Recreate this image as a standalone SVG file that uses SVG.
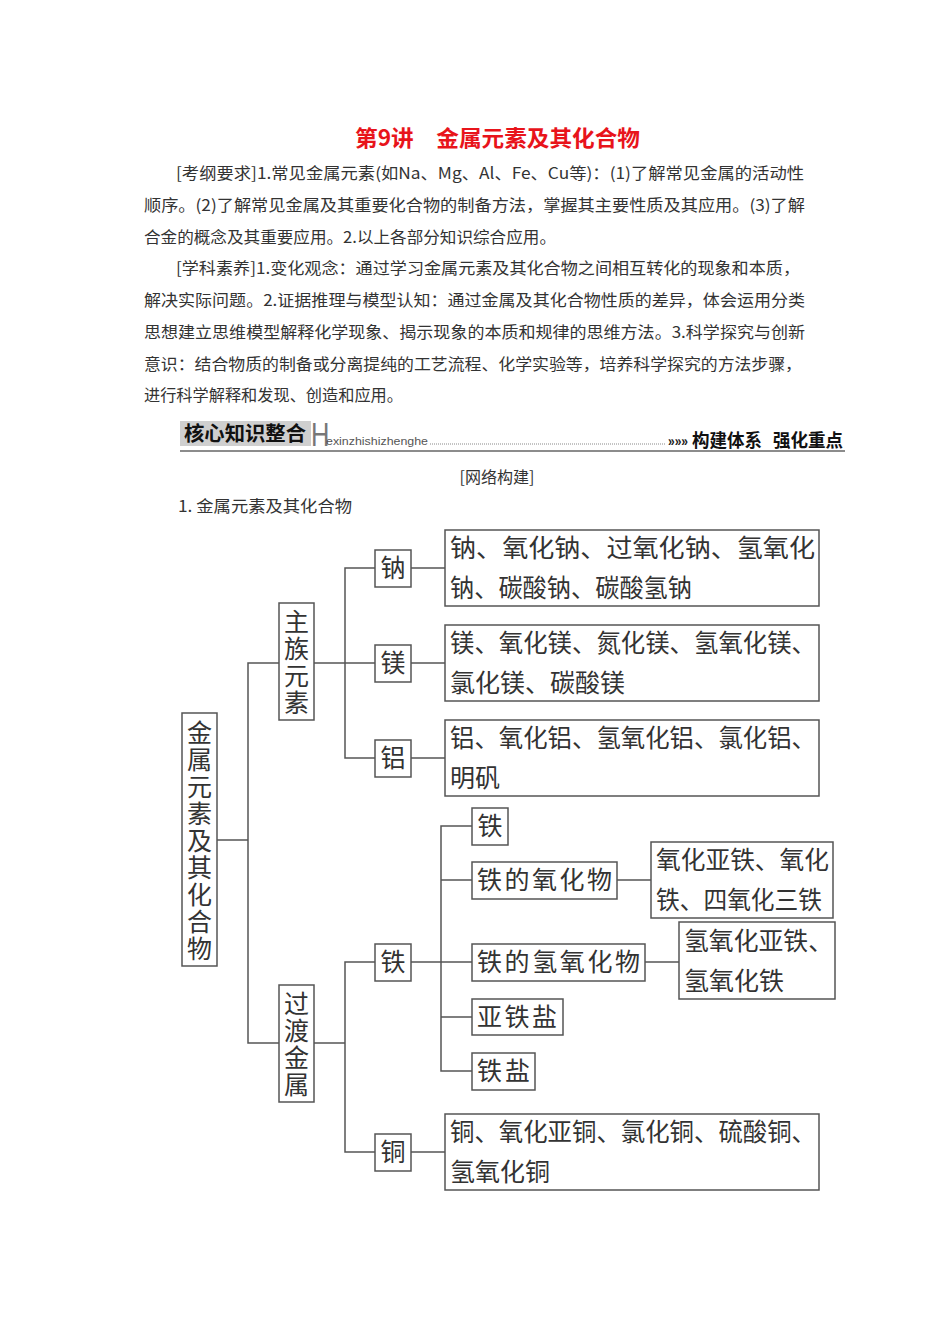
<svg xmlns="http://www.w3.org/2000/svg" width="950" height="1344" viewBox="0 0 950 1344">
<style>
.bg{fill:#fff}
.box{fill:#fff;stroke:#555;stroke-width:1.5}
.conn{fill:none;stroke:#555;stroke-width:1.5}
.cjk{font-family:"Noto Sans CJK SC","Noto Sans",sans-serif}
.body{font-family:"Noto Sans CJK SC","Noto Sans",sans-serif;font-size:16px;fill:#333}
.t{font-family:"Noto Sans CJK SC","Noto Sans",sans-serif;font-size:25px;fill:#333}
.tm{text-anchor:middle}
.v{writing-mode:vertical-rl;letter-spacing:2px}
</style>
<rect class="bg" x="0" y="0" width="950" height="1344"/>
<g id="title">
<text class="cjk" x="355" y="146" font-size="22" font-weight="bold" fill="#e8141b" textLength="285" lengthAdjust="spacingAndGlyphs">第9讲　金属元素及其化合物</text>
</g>
<g id="intro">
<text class="body" x="176" y="179" textLength="628" lengthAdjust="spacingAndGlyphs">[考纲要求]1.常见金属元素(如Na、Mg、Al、Fe、Cu等)：(1)了解常见金属的活动性</text>
<text class="body" x="144" y="211" textLength="661" lengthAdjust="spacingAndGlyphs">顺序。(2)了解常见金属及其重要化合物的制备方法，掌握其主要性质及其应用。(3)了解</text>
<text class="body" x="144" y="243" textLength="412" lengthAdjust="spacingAndGlyphs">合金的概念及其重要应用。2.以上各部分知识综合应用。</text>
<text class="body" x="176" y="274" textLength="624" lengthAdjust="spacingAndGlyphs">[学科素养]1.变化观念：通过学习金属元素及其化合物之间相互转化的现象和本质，</text>
<text class="body" x="144" y="306" textLength="661" lengthAdjust="spacingAndGlyphs">解决实际问题。2.证据推理与模型认知：通过金属及其化合物性质的差异，体会运用分类</text>
<text class="body" x="144" y="338" textLength="661" lengthAdjust="spacingAndGlyphs">思想建立思维模型解释化学现象、揭示现象的本质和规律的思维方法。3.科学探究与创新</text>
<text class="body" x="144" y="370" textLength="658" lengthAdjust="spacingAndGlyphs">意识：结合物质的制备或分离提纯的工艺流程、化学实验等，培养科学探究的方法步骤，</text>
<text class="body" x="144" y="401" textLength="259" lengthAdjust="spacingAndGlyphs">进行科学解释和发现、创造和应用。</text>
</g>
<g id="banner">
<rect x="180" y="421" width="131" height="25" fill="#cfcfcf"/>
<text class="cjk" x="184" y="441" font-size="20" font-weight="bold" fill="#111" textLength="122" lengthAdjust="spacingAndGlyphs">核心知识整合</text>
<text x="311" y="446" font-family="Liberation Sans, sans-serif" font-size="34" fill="#777" transform="translate(311 0) scale(0.75 1) translate(-311 0)">H</text>
<text x="326" y="445" font-family="Liberation Sans, sans-serif" font-size="11" fill="#555" textLength="102" lengthAdjust="spacingAndGlyphs">exinzhishizhenghe</text>
<line x1="430" y1="444" x2="666" y2="444" stroke="#888" stroke-width="1" stroke-dasharray="1 1"/>
<text x="668" y="446" font-family="Liberation Sans, sans-serif" font-size="15" font-weight="bold" fill="#222" textLength="20" lengthAdjust="spacingAndGlyphs">»»»</text>
<text class="cjk" x="692" y="447" font-size="18" font-weight="bold" fill="#111" textLength="70" lengthAdjust="spacingAndGlyphs">构建体系</text>
<text class="cjk" x="773" y="447" font-size="18" font-weight="bold" fill="#111" textLength="70" lengthAdjust="spacingAndGlyphs">强化重点</text>
<line x1="180" y1="451" x2="845" y2="451" stroke="#666" stroke-width="1.5"/>
</g>
<g id="subhead">
<text class="body tm" x="497" y="483">[网络构建]</text>
<text class="body" x="178" y="512" textLength="174" lengthAdjust="spacingAndGlyphs">1. 金属元素及其化合物</text>
</g>
<g id="connectors">
<path class="conn" d="M217,840 H248 M279,663 H248 V1043 H279"/>
<path class="conn" d="M314,663 H375 M375,568 H345 V758 H375"/>
<path class="conn" d="M411,568 H445 M411,663 H445 M411,758 H445"/>
<path class="conn" d="M314,1043 H345 M375,962 H345 V1152 H375 M411,1152 H445"/>
<path class="conn" d="M411,962 H472 M472,826 H441 V1071 H472 M441,880 H472 M441,1017 H472"/>
<path class="conn" d="M617,880 H651 M645,962 H679"/>
</g>
<g id="root">
<rect class="box" x="182" y="713" width="35" height="253"/>
<text class="t v" x="199.5" y="720">金属元素及其化合物</text>
</g>
<g id="main-group">
<rect class="box" x="279" y="603" width="35" height="117"/>
<text class="t v" x="296.5" y="609">主族元素</text>
</g>
<g id="transition">
<rect class="box" x="279" y="985" width="35" height="117"/>
<text class="t v" x="296.5" y="991">过渡金属</text>
</g>
<g id="na">
<rect class="box" x="375" y="550" width="36" height="37"/>
<text class="t tm" x="393" y="577">钠</text>
</g>
<g id="mg">
<rect class="box" x="375" y="645" width="36" height="37"/>
<text class="t tm" x="393" y="672">镁</text>
</g>
<g id="al">
<rect class="box" x="375" y="740" width="36" height="37"/>
<text class="t tm" x="393" y="767">铝</text>
</g>
<g id="na-list">
<rect class="box" x="445" y="530" width="374" height="76"/>
<text class="t" x="450" y="557" textLength="365" lengthAdjust="spacingAndGlyphs">钠、氧化钠、过氧化钠、氢氧化</text>
<text class="t" x="450" y="597" textLength="242" lengthAdjust="spacingAndGlyphs">钠、碳酸钠、碳酸氢钠</text>
</g>
<g id="mg-list">
<rect class="box" x="445" y="625" width="374" height="76"/>
<text class="t" x="450" y="652" textLength="366" lengthAdjust="spacingAndGlyphs">镁、氧化镁、氮化镁、氢氧化镁、</text>
<text class="t" x="450" y="692" textLength="175" lengthAdjust="spacingAndGlyphs">氯化镁、碳酸镁</text>
</g>
<g id="al-list">
<rect class="box" x="445" y="720" width="374" height="76"/>
<text class="t" x="450" y="747" textLength="366" lengthAdjust="spacingAndGlyphs">铝、氧化铝、氢氧化铝、氯化铝、</text>
<text class="t" x="450" y="787">明矾</text>
</g>
<g id="fe">
<rect class="box" x="375" y="944" width="36" height="37"/>
<text class="t tm" x="393" y="971">铁</text>
</g>
<g id="cu">
<rect class="box" x="375" y="1134" width="36" height="37"/>
<text class="t tm" x="393" y="1161">铜</text>
</g>
<g id="cu-list">
<rect class="box" x="445" y="1114" width="374" height="76"/>
<text class="t" x="450" y="1141" textLength="366" lengthAdjust="spacingAndGlyphs">铜、氧化亚铜、氯化铜、硫酸铜、</text>
<text class="t" x="450" y="1181">氢氧化铜</text>
</g>
<g id="fe-metal">
<rect class="box" x="472" y="808" width="36" height="37"/>
<text class="t tm" x="490" y="835">铁</text>
</g>
<g id="fe-oxide">
<rect class="box" x="472" y="862" width="145" height="37"/>
<text class="t" x="477" y="889" textLength="135" lengthAdjust="spacing">铁的氧化物</text>
</g>
<g id="fe-hydroxide">
<rect class="box" x="472" y="944" width="173" height="37"/>
<text class="t" x="477" y="971" textLength="163" lengthAdjust="spacing">铁的氢氧化物</text>
</g>
<g id="fe2-salt">
<rect class="box" x="472" y="999" width="91" height="36"/>
<text class="t" x="477" y="1026" textLength="80" lengthAdjust="spacing">亚铁盐</text>
</g>
<g id="fe3-salt">
<rect class="box" x="472" y="1053" width="63" height="37"/>
<text class="t" x="477" y="1080" textLength="53" lengthAdjust="spacing">铁盐</text>
</g>
<g id="fe-oxide-list">
<rect class="box" x="651" y="842" width="182" height="76"/>
<text class="t" x="656" y="869" textLength="173" lengthAdjust="spacingAndGlyphs">氧化亚铁、氧化</text>
<text class="t" x="656" y="909" textLength="166" lengthAdjust="spacingAndGlyphs">铁、四氧化三铁</text>
</g>
<g id="fe-hydroxide-list">
<rect class="box" x="679" y="922" width="156" height="77"/>
<text class="t" x="684" y="950" textLength="149" lengthAdjust="spacingAndGlyphs">氢氧化亚铁、</text>
<text class="t" x="684" y="990">氢氧化铁</text>
</g>
</svg>
